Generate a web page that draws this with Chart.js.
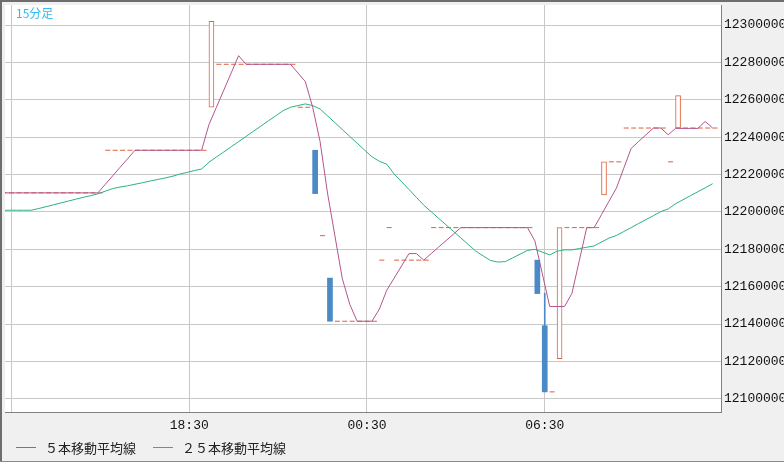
<!DOCTYPE html>
<html><head><meta charset="utf-8">
<script src="https://cdn.jsdelivr.net/npm/chart.js@4.4.1/dist/chart.umd.min.js"></script>
<style>html,body{margin:0;padding:0;background:#f0f0f0;overflow:hidden}canvas{display:block}</style>
</head><body>
<canvas id="c" width="784" height="462" style="width:784px;height:462px"></canvas>
<script>
// ---- data (15-minute candles) ----
const times = [
'12:15','12:30','12:45','13:00','13:15','13:30','13:45','14:00','14:15','14:30',
'14:45','15:00','15:15','15:30','15:45','16:00','16:15','16:30','16:45','17:00',
'17:15','17:30','17:45','18:00','18:15','18:30','18:45','19:00','19:15','19:30',
'19:45','20:00','20:15','20:30','20:45','21:00','21:15','21:30','21:45','22:00',
'22:15','22:30','22:45','23:00','23:15','23:30','23:45','00:00','00:15','00:30',
'00:45','01:00','01:15','01:30','01:45','02:00','02:15','02:30','02:45','03:00',
'03:15','03:30','03:45','04:00','04:15','04:30','04:45','05:00','05:15','05:30',
'05:45','06:00','06:15','06:30','06:45','07:00','07:15','07:30','07:45','08:00',
'08:15','08:30','08:45','09:00','09:15','09:30','09:45','10:00','10:15','10:30',
'10:45','11:00','11:15','11:30','11:45','12:00','12:15'];

const opens = [
12210200,12210200,12210200,12210200,12210200,12210200,12210200,12210200,12210200,12210200,
12210200,12210200,12210200,12210200,12233000,12233000,12233000,12233000,12233000,12233000,
12233000,12233000,12233000,12233000,12233000,12233000,12233000,12233000,12256000,12279000,
12279000,12279000,12279000,12279000,12279000,12279000,12279000,12279000,12279000,12279000,
12256000,12256000,12233000,12187300,12164600,12141500,12141500,12141500,12141500,12141500,
12141500,12174200,12191600,12174200,12174200,12174200,12174200,12174200,12191600,12191600,
12191600,12191600,12191600,12191600,12191600,12191600,12191600,12191600,12191600,12191600,
12191600,12191600,12174200,12139100,12103700,12121500,12191600,12191600,12191600,12191600,
12191600,12209100,12226800,12226800,12244900,12244900,12244900,12244900,12244900,12244900,
12226800,12244900,12244900,12244900,12244900,12244900,12244900];

const highs = [
12210200,12210200,12210200,12210200,12210200,12210200,12210200,12210200,12210200,12210200,
12210200,12210200,12210200,12210200,12233000,12233000,12233000,12233000,12233000,12233000,
12233000,12233000,12233000,12233000,12233000,12233000,12233000,12233000,12302000,12279000,
12279000,12279000,12279000,12279000,12279000,12279000,12279000,12279000,12279000,12279000,
12256000,12256000,12233000,12187300,12164600,12141500,12141500,12141500,12141500,12141500,
12141500,12174200,12191600,12174200,12174200,12174200,12174200,12174200,12191600,12191600,
12191600,12191600,12191600,12191600,12191600,12191600,12191600,12191600,12191600,12191600,
12191600,12191600,12174200,12156500,12103700,12191600,12191600,12191600,12191600,12191600,
12191600,12226800,12226800,12226800,12244900,12244900,12244900,12244900,12244900,12244900,
12226800,12262200,12244900,12244900,12244900,12244900,12244900];

const lows = [
12210200,12210200,12210200,12210200,12210200,12210200,12210200,12210200,12210200,12210200,
12210200,12210200,12210200,12210200,12233000,12233000,12233000,12233000,12233000,12233000,
12233000,12233000,12233000,12233000,12233000,12233000,12233000,12233000,12256000,12279000,
12279000,12279000,12279000,12279000,12279000,12279000,12279000,12279000,12279000,12279000,
12256000,12256000,12209800,12187300,12141500,12141500,12141500,12141500,12141500,12141500,
12141500,12174200,12191600,12174200,12174200,12174200,12174200,12174200,12191600,12191600,
12191600,12191600,12191600,12191600,12191600,12191600,12191600,12191600,12191600,12191600,
12191600,12191600,12156300,12103700,12103700,12121500,12191600,12191600,12191600,12191600,
12191600,12209100,12226800,12226800,12244900,12244900,12244900,12244900,12244900,12244900,
12226800,12244900,12244900,12244900,12244900,12244900,12244900];

const closes = [
12210200,12210200,12210200,12210200,12210200,12210200,12210200,12210200,12210200,12210200,
12210200,12210200,12210200,12210200,12233000,12233000,12233000,12233000,12233000,12233000,
12233000,12233000,12233000,12233000,12233000,12233000,12233000,12233000,12302000,12279000,
12279000,12279000,12279000,12279000,12279000,12279000,12279000,12279000,12279000,12279000,
12256000,12256000,12209800,12187300,12141500,12141500,12141500,12141500,12141500,12141500,
12141500,12174200,12191600,12174200,12174200,12174200,12174200,12174200,12191600,12191600,
12191600,12191600,12191600,12191600,12191600,12191600,12191600,12191600,12191600,12191600,
12191600,12191600,12156300,12103700,12103700,12191600,12191600,12191600,12191600,12191600,
12191600,12226800,12226800,12226800,12244900,12244900,12244900,12244900,12244900,12244900,
12226800,12262200,12244900,12244900,12244900,12244900,12244900];

const ma5 = [
12210200,12210200,12210200,12210200,12210200,12210200,12210200,12210200,12210200,12210200,
12210200,12210200,12210200,12210200,12214800,12219300,12223900,12228400,12233000,12233000,
12233000,12233000,12233000,12233000,12233000,12233000,12233000,12233000,12246800,12256000,
12265200,12274400,12283600,12279000,12279000,12279000,12279000,12279000,12279000,12279000,
12274400,12269800,12256000,12237600,12210100,12187200,12164300,12150600,12141500,12141500,
12141500,12148000,12158100,12164600,12171100,12177700,12177700,12174200,12177700,12181200,
12184600,12188100,12191600,12191600,12191600,12191600,12191600,12191600,12191600,12191600,
12191600,12191600,12184500,12167000,12149400,12149400,12149400,12156400,12174000,12191600,
12191600,12198600,12205700,12212700,12223400,12234000,12237700,12241300,12244900,12244900,
12241300,12244700,12244700,12244700,12244700,12248400,12244900];

const ma25 = [
12200900,12200900,12200900,12200900,12200900,12201800,12202800,12203800,12204800,12205800,
12206800,12207800,12208700,12209700,12211100,12212500,12213300,12214000,12214800,12215600,
12216500,12217300,12218100,12219000,12220200,12221100,12222100,12223000,12226600,12229400,
12232100,12234900,12237600,12240400,12243200,12245900,12248700,12251400,12254200,12256000,
12256900,12257800,12256900,12255100,12251400,12247800,12244100,12240400,12236800,12233100,
12229500,12227100,12225500,12220300,12216200,12212000,12207800,12203600,12200100,12196600,
12193100,12189600,12186100,12182600,12179100,12176500,12174000,12173200,12173400,12175400,
12177400,12179400,12180000,12178500,12177000,12179000,12179700,12179700,12180400,12181100,
12181800,12183900,12186000,12187400,12189500,12191600,12193800,12195900,12198000,12200200,
12201600,12204400,12206500,12208700,12210800,12212900,12215100];

const seriesNames = ['５本移動平均線', '２５本移動平均線'];
const gridTimes = ['12:30', '18:30', '00:30', '06:30'];
const labeledTimes = ['18:30', '00:30', '06:30'];
const yTicks = [12100000, 12120000, 12140000, 12160000, 12180000, 12200000,
                12220000, 12240000, 12260000, 12280000, 12300000];
const chartTitle = '15分足';

// ---- styles ----
const UP = '#e0603c', DOWN = '#4a8ac6', MA5C = '#b4558c', MA25C = '#2bb47c';
const GRID = '#c8c8c8', AXISLINE = '#808080', PANEL = '#f0f0f0';
const MONO = "'Liberation Mono', 'DejaVu Sans Mono', monospace";
const JP = "'Noto Sans CJK JP', 'Noto Sans', sans-serif";
const MA_SHIFT = -0.33;

// ---- build library datasets from arrays ----
const bodies = [], bodyBg = [], bodyBorder = [], bodyBW = [];
const wicks = [], wickColor = [], dojis = [];
times.forEach((t, k) => {
  const o = opens[k], c = closes[k], h = highs[k], l = lows[k];
  if (o === c) { dojis.push({x: k, y: c}); return; }
  const up = c > o;
  bodies.push({x: k, y: [o, c]});
  bodyBg.push(up ? '#ffffff' : DOWN);
  bodyBorder.push(up ? UP : DOWN);
  bodyBW.push(up ? 1 : 0);
  const top = Math.max(o, c), bot = Math.min(o, c);
  if (h > top) { wicks.push({x: k, y: [top, h]}); wickColor.push(up ? UP : DOWN); }
  if (l < bot) { wicks.push({x: k, y: [l, bot]}); wickColor.push(up ? UP : DOWN); }
});

const decor = {
  id: 'decor',
  beforeDraw(chart) {
    const {ctx, chartArea: a} = chart;
    ctx.save();
    ctx.fillStyle = PANEL; ctx.fillRect(0, 0, chart.width, chart.height);
    ctx.fillStyle = '#ffffff'; ctx.fillRect(a.left, a.top, a.right - a.left, a.bottom - a.top);
    ctx.restore();
  },
  afterDraw(chart) {
    const {ctx, chartArea: a} = chart;
    ctx.save();
    ctx.fillStyle = '#6e6e6e';
    ctx.fillRect(0, 0, 2, chart.height);
    ctx.fillRect(0, 0, chart.width, 2);
    ctx.fillStyle = '#8a8a8a';
    ctx.fillRect(0, chart.height - 1, chart.width, 1);
    ctx.font = '12px ' + JP;
    ctx.fillStyle = '#33bbee';
    ctx.textBaseline = 'middle';
    ctx.textAlign = 'left';
    ctx.fillText(chartTitle, a.left + 11, a.top + 8);
    ctx.font = '13px ' + JP;
    ctx.fillStyle = '#222';
    let x = 16; const y = 447.5;
    chart.data.datasets.filter(d => seriesNames.includes(d.label)).forEach(d => {
      ctx.strokeStyle = d.borderColor; ctx.lineWidth = 1;
      ctx.beginPath(); ctx.moveTo(x, y); ctx.lineTo(x + 20, y); ctx.stroke();
      const tx = x + 29;
      ctx.fillText(d.label, tx, y + 0.5);
      x = tx + ctx.measureText(d.label).width + 17;
    });
    ctx.restore();
  }
};

new Chart(document.getElementById('c'), {
  type: 'bar',
  data: {
    datasets: [
      {type: 'line', label: seriesNames[0], data: ma5.map((v, k) => ({x: k + MA_SHIFT, y: v})),
       borderColor: MA5C, backgroundColor: MA5C, borderWidth: 1, pointRadius: 0, tension: 0, fill: false, order: 0},
      {type: 'line', label: seriesNames[1], data: ma25.map((v, k) => ({x: k + MA_SHIFT, y: v})),
       borderColor: MA25C, backgroundColor: MA25C, borderWidth: 1, pointRadius: 0, tension: 0, fill: false, order: 0},
      {type: 'line', label: 'flat', data: dojis, showLine: false, pointStyle: 'line', pointRadius: 2.5,
       pointBorderWidth: 1, borderColor: UP, backgroundColor: UP, order: 1},
      {type: 'bar', label: 'body', data: bodies, backgroundColor: bodyBg, borderColor: bodyBorder,
       borderWidth: bodyBW, borderSkipped: false, barThickness: 5, grouped: false, order: 2},
      {type: 'bar', label: 'wick', data: wicks, backgroundColor: wickColor, borderWidth: 0,
       barThickness: 1, grouped: false, order: 3}
    ]
  },
  options: {
    responsive: false,
    devicePixelRatio: 1,
    animation: false,
    events: [],
    layout: {padding: {left: 2, top: 2, right: 0, bottom: 0}},
    plugins: {legend: {display: false}, tooltip: {enabled: false}},
    scales: {
      x: {
        type: 'linear', min: 0.126, max: 96.798, offset: false,
        grid: {color: GRID, drawTicks: false, offset: false},
        border: {display: true, color: AXISLINE},
        afterBuildTicks: s => { s.ticks = gridTimes.map(t => ({value: times.indexOf(t)})); },
        ticks: {autoSkip: false, maxRotation: 0, padding: 6, color: '#111',
                font: {family: MONO, size: 13},
                callback: v => labeledTimes.includes(times[v]) ? times[v] : ''},
        afterFit: s => { s.height = 50; s.paddingLeft = 0; s.paddingRight = 0; }
      },
      y: {
        position: 'right', min: 12092935, max: 12310730,
        grid: {color: GRID, drawTicks: false},
        border: {display: true, color: AXISLINE},
        afterBuildTicks: s => { s.ticks = yTicks.map(v => ({value: v})); },
        ticks: {autoSkip: false, padding: 3, color: '#111',
                font: {family: MONO, size: 13}, callback: v => String(v)},
        afterFit: s => { s.width = 63; s.paddingTop = 0; s.paddingBottom = 0; }
      }
    }
  },
  plugins: [decor]
});
</script>
</body></html>
